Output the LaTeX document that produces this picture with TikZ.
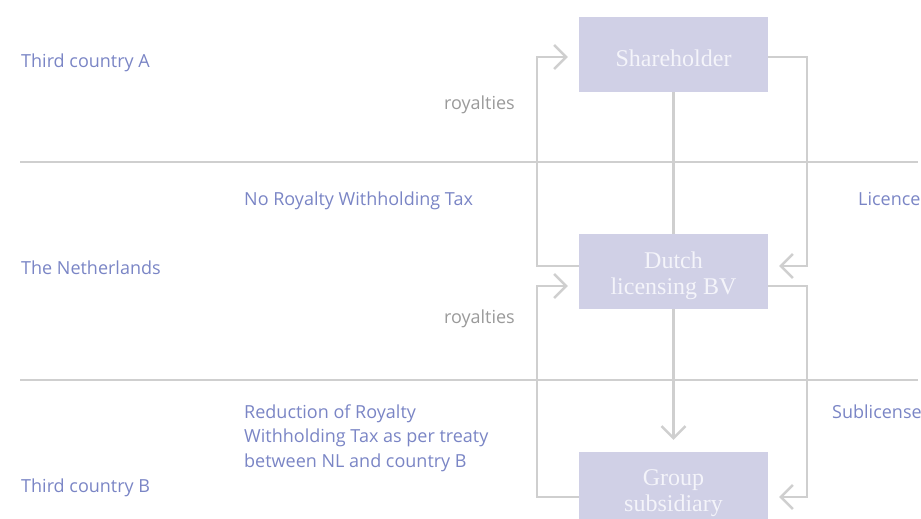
\documentclass[tikz,border=0pt]{standalone}
\usepackage{fontspec}
\setmainfont{Liberation Serif}
\setsansfont{Open Sans}
\usetikzlibrary{arrows.meta}
\definecolor{boxfill}{HTML}{D0D0E6}
\definecolor{boxtext}{HTML}{F4F4FA}
\definecolor{flowgray}{HTML}{CFCFCF}
\definecolor{labelblue}{HTML}{7A85C5}
\definecolor{notegray}{HTML}{9A9A9A}
\tikzset{
  entity/.style={fill=boxfill,minimum width=189pt,minimum height=75pt,inner sep=0pt},
  entitytext/.style={text=boxtext,inner sep=0pt,align=center,yshift=-4pt,
    font=\fontsize{24}{26}\selectfont},
  flow/.style={draw=flowgray,line width=2.5pt},
  flowarrow/.style={flow,-{Straight Barb[length=12pt,width=24pt]}},
  region/.style={draw=flowgray,line width=2pt},
  tag/.style={inner sep=0pt,anchor=base west,text=labelblue,align=left,
    font=\sffamily\fontsize{18}{24.5}\selectfont},
  note/.style={tag,anchor=base east,text=notegray}
}
\newcommand{\entitynode}[3]{\node[entity,label={[entitytext]center:#3}] at (#1) (#2) {}}

\begin{document}
\begin{tikzpicture}[x=1pt,y=-1pt]
  \useasboundingbox (0,0) rectangle (921,519);

  % country bands
  \draw[region] (20,162) -- (918,162)
                (20,380) -- (918,380);

  \entitynode{673.5,54.5}{share}{Shareholder};
  \entitynode{673.5,271.5}{dutch}{Dutch\\licensing BV};
  \entitynode{673.5,489.5}{group}{Group\\subsidiary};

  \coordinate (leftrail) at (537,0);
  \coordinate (rightrail) at (807,0);
  \coordinate (shareinL) at ([yshift=-2.5pt]share.west);
  \coordinate (shareoutR) at ([yshift=-2.5pt]share.east);
  \coordinate (dutchoutL) at ([yshift=5.5pt]dutch.west);
  \coordinate (dutchinL) at ([yshift=-14.5pt]dutch.west);
  \coordinate (dutchinR) at ([yshift=5.5pt]dutch.east);
  \coordinate (dutchoutR) at ([yshift=-14.5pt]dutch.east);
  \coordinate (groupoutL) at ([yshift=-7.5pt]group.west);
  \coordinate (groupinR) at ([yshift=-7.5pt]group.east);

  \draw[flow] (share.south) -- (dutch.north);
  \draw[flowarrow] (dutch.south) -- ([yshift=12pt]group.north);
  \draw[flowarrow] (dutchoutL) -| (leftrail |- shareinL) -- ([xshift=-11pt]shareinL);
  \draw[flowarrow] (groupoutL) -| (leftrail |- dutchinL) -- ([xshift=-11pt]dutchinL);
  \draw[flowarrow] (shareoutR) -| (rightrail |- dutchinR) -- ([xshift=11pt]dutchinR);
  \draw[flowarrow] (dutchoutR) -| (rightrail |- groupinR) -- ([xshift=11pt]groupinR);

  \node[tag] (bandA) at (21,68) {Third country A};
  \node[tag] (bandNL) at (21,274) {The Netherlands};
  \node[tag] (bandB) at (21,492) {Third country B};

  \node[note] (royA) at (515,109) {royalties};
  \node[note] (royB) at (515,323) {royalties};

  \node[tag] (notax) at (244,205) {No Royalty Withholding Tax};
  \node[tag] (treaty) at (244,467) {Reduction of Royalty\\Withholding Tax as per treaty\\between NL and country B};
  \node[tag] (licence) at (858,205) {Licence};
  \node[tag] (sublic) at (832,418) {Sublicense};
\end{tikzpicture}
\end{document}
